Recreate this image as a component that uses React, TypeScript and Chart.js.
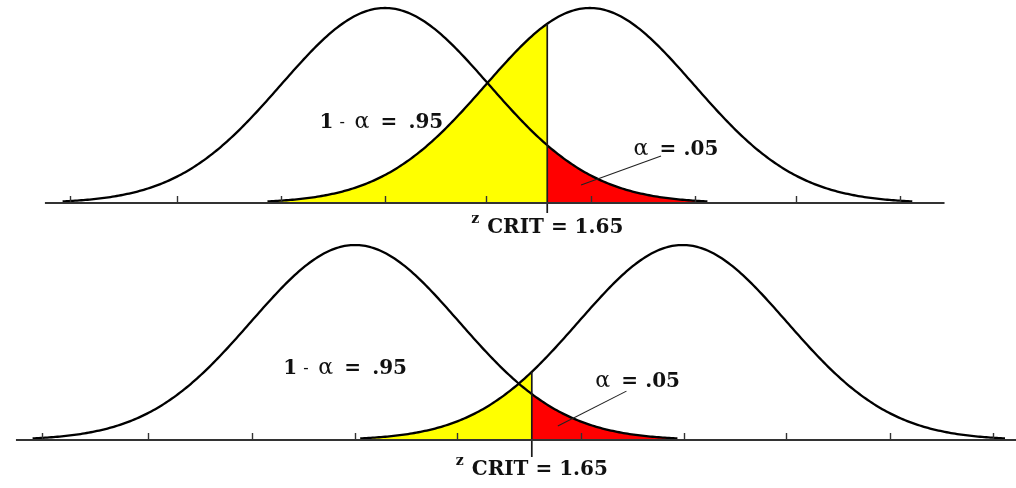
import React, { useEffect, useRef } from "react";
import { Chart, registerables } from "chart.js";

Chart.register(...registerables);

// ---------------- data (x in standard-deviation units, H0 mean = 0) ----------------
const topMeans = [0, 1.97]; // H0 mean, H1 mean – top panel
const bottomMeans = [0, 3.15]; // H0 mean, H1 mean – bottom panel
const stdDev = 1;
const curveHalfSpan = 3.1; // curves drawn to ±3.1 SD
const topCrit = 1.56; // where the critical line sits in the top panel
const bottomCrit = 1.7; // where the critical line sits in the bottom panel
const topTicks = [-3.03, -2, -1, 0, 0.97, 1.98, 2.98, 3.95, 4.95];
const bottomTicks = [-3.01, -1.99, -0.99, 0, 0.98, 2.17, 3.16, 4.14, 5.14, 6.13];
const topAxisRange = [-3.27, 5.38];
const bottomAxisRange = [-3.26, 6.4];
const powerLabel = ["1", "-", "α", "=", ".95"];
const alphaLabel = ["α", "=", ".05"];
const critLabel = ["z", "CRIT = 1.65"];

// ---------------- helpers ----------------
const pdf = (x: number, m: number) =>
  Math.exp(-0.5 * ((x - m) / stdDev) ** 2) / (stdDev * Math.sqrt(2 * Math.PI));

function curve(m: number, from: number, to: number) {
  const pts: { x: number; y: number }[] = [];
  const step = 0.02;
  for (let x = from; x < to - 1e-9; x += step) pts.push({ x, y: pdf(x, m) });
  pts.push({ x: to, y: pdf(to, m) });
  return pts;
}

type PanelCfg = {
  means: number[];
  crit: number;
  ticks: number[];
  axis: number[];
  geom: { zeroPx: number; unitPx: number; basePx: number; peakPx: number; w: number; h: number };
  critBottom: number;
  leader: number[][];
  power: { x: number; y: number };
  alpha: { x: number; y: number };
  critLabelY: number;
};

const panels: PanelCfg[] = [
  {
    means: topMeans,
    crit: topCrit,
    ticks: topTicks,
    axis: topAxisRange,
    geom: { zeroPx: 385, unitPx: 104, basePx: 203, peakPx: 195, w: 1016, h: 244 },
    critBottom: -0.0205,
    leader: [
      [2.654, 0.0961],
      [1.885, 0.0368],
    ],
    power: { x: -0.63, y: 0.1536 },
    alpha: { x: 2.39, y: 0.0982 },
    critLabelY: -0.0614,
  },
  {
    means: bottomMeans,
    crit: bottomCrit,
    ticks: bottomTicks,
    axis: bottomAxisRange,
    geom: { zeroPx: 355, unitPx: 104, basePx: 196, peakPx: 195, w: 1016, h: 244 },
    critBottom: -0.0348,
    leader: [
      [2.61, 0.1],
      [1.95, 0.0287],
    ],
    power: { x: -0.69, y: 0.135 },
    alpha: { x: 2.31, y: 0.1085 },
    critLabelY: -0.0716,
  },
];

const FONT = '"DejaVu Serif", "Liberation Serif", serif';
const B20 = `bold 20px ${FONT}`;
const R22 = `22px ${FONT}`;
const R16 = `16px ${FONT}`;
const B14 = `bold 14px ${FONT}`;

type Piece = { t: string; f: string; dy?: number; at?: number };

function drawRun(
  ctx: CanvasRenderingContext2D,
  pieces: Piece[],
  x: number,
  y: number,
  align: "left" | "center"
) {
  const widths = pieces.map((p) => {
    ctx.font = p.f;
    return ctx.measureText(p.t).width;
  });
  let total = 0;
  let run = 0;
  pieces.forEach((p, i) => {
    const start = p.at !== undefined ? p.at : run;
    run = start + widths[i];
    total = Math.max(total, run);
  });
  const x0 = align === "center" ? x - total / 2 : x;
  run = 0;
  pieces.forEach((p, i) => {
    const start = p.at !== undefined ? p.at : run;
    ctx.font = p.f;
    ctx.fillText(p.t, x0 + start, y + (p.dy || 0));
    run = start + widths[i];
  });
}

function buildConfig(cfg: PanelCfg): any {
  const [m0, m1] = cfg.means;
  const g = cfg.geom;
  const pdfMax = pdf(0, 0);
  const pxPerY = g.peakPx / pdfMax;
  const xMin = -g.zeroPx / g.unitPx;
  const xMax = (g.w - g.zeroPx) / g.unitPx;
  const yMax = g.basePx / pxPerY;
  const yMin = -(g.h - g.basePx) / pxPerY;

  const leftCurve = curve(m0, m0 - curveHalfSpan, m0 + curveHalfSpan);
  const rightCurve = curve(m1, m1 - curveHalfSpan, m1 + curveHalfSpan);
  const yellow = curve(m1, m1 - curveHalfSpan, cfg.crit);
  const red = curve(m0, cfg.crit, m0 + curveHalfSpan);

  const decor = {
    id: "panelDecor",
    afterDatasetsDraw(chart: any) {
      const { ctx } = chart;
      const xs = chart.scales.x;
      const ys = chart.scales.y;
      const y0 = ys.getPixelForValue(0);
      ctx.save();
      // axis line + upward ticks
      ctx.strokeStyle = "#333";
      ctx.lineWidth = 1.8;
      ctx.beginPath();
      ctx.moveTo(xs.getPixelForValue(cfg.axis[0]), y0);
      ctx.lineTo(xs.getPixelForValue(cfg.axis[1]), y0);
      ctx.stroke();
      ctx.lineWidth = 1.4;
      cfg.ticks.forEach((t) => {
        const px = Math.round(xs.getPixelForValue(t)) + 0.5;
        ctx.beginPath();
        ctx.moveTo(px, y0);
        ctx.lineTo(px, y0 - 7);
        ctx.stroke();
      });
      // labels
      ctx.fillStyle = "#111";
      ctx.textBaseline = "alphabetic";
      drawRun(
        ctx,
        [
          { t: powerLabel[0], f: B20, at: 0 },
          { t: powerLabel[1], f: R16, at: 20, dy: -1 },
          { t: powerLabel[2], f: R22, at: 35 },
          { t: powerLabel[3], f: B20, at: 61 },
          { t: powerLabel[4], f: B20, at: 89 },
        ],
        xs.getPixelForValue(cfg.power.x),
        ys.getPixelForValue(cfg.power.y),
        "left"
      );
      drawRun(
        ctx,
        [
          { t: alphaLabel[0], f: R22, at: 0 },
          { t: alphaLabel[1], f: B20, at: 26 },
          { t: alphaLabel[2], f: B20, at: 50 },
        ],
        xs.getPixelForValue(cfg.alpha.x),
        ys.getPixelForValue(cfg.alpha.y),
        "left"
      );
      drawRun(
        ctx,
        [
          { t: critLabel[0], f: B14, dy: -10, at: 0 },
          { t: critLabel[1], f: B20, at: 16 },
        ],
        xs.getPixelForValue(cfg.crit),
        ys.getPixelForValue(cfg.critLabelY),
        "center"
      );
      ctx.restore();
    },
  };

  const lineBase = { pointRadius: 0, tension: 0, fill: false };

  return {
    type: "line",
    data: {
      datasets: [
        { ...lineBase, data: leftCurve, borderColor: "#000", borderWidth: 2.3, order: 1 },
        { ...lineBase, data: rightCurve, borderColor: "#000", borderWidth: 2.3, order: 1 },
        {
          ...lineBase,
          data: [
            { x: cfg.crit, y: cfg.critBottom },
            { x: cfg.crit, y: pdf(cfg.crit, m1) },
          ],
          borderColor: "#1a1a1a",
          borderWidth: 1.7,
          order: 0,
        },
        {
          ...lineBase,
          data: cfg.leader.map(([x, y]) => ({ x, y })),
          borderColor: "#222",
          borderWidth: 1.1,
          order: 0,
        },
        {
          ...lineBase,
          data: yellow,
          fill: "origin",
          backgroundColor: "#ffff00",
          borderWidth: 0,
          borderColor: "rgba(0,0,0,0)",
          order: 5,
        },
        {
          ...lineBase,
          data: red,
          fill: "origin",
          backgroundColor: "#ff0000",
          borderWidth: 0,
          borderColor: "rgba(0,0,0,0)",
          order: 5,
        },
      ],
    },
    options: {
      animation: false,
      responsive: false,
      devicePixelRatio: 1,
      layout: { padding: 0 },
      plugins: { legend: { display: false }, tooltip: { enabled: false } },
      events: [],
      scales: {
        x: { type: "linear", display: false, min: xMin, max: xMax },
        y: { type: "linear", display: false, min: yMin, max: yMax },
      },
    },
    plugins: [decor],
  };
}

function Panel({ cfg }: { cfg: PanelCfg }) {
  const ref = useRef<HTMLCanvasElement>(null);
  useEffect(() => {
    const chart = new Chart(ref.current as HTMLCanvasElement, buildConfig(cfg));
    return () => chart.destroy();
  }, [cfg]);
  return (
    <canvas
      ref={ref}
      width={cfg.geom.w}
      height={cfg.geom.h}
      style={{ display: "block", width: cfg.geom.w, height: cfg.geom.h }}
    />
  );
}

export default function App() {
  return (
    <div
      style={{
        position: "absolute",
        left: 0,
        top: 0,
        width: 1016,
        height: 488,
        background: "#ffffff",
        overflow: "hidden",
      }}
    >
      <Panel cfg={panels[0]} />
      <Panel cfg={panels[1]} />
    </div>
  );
}
